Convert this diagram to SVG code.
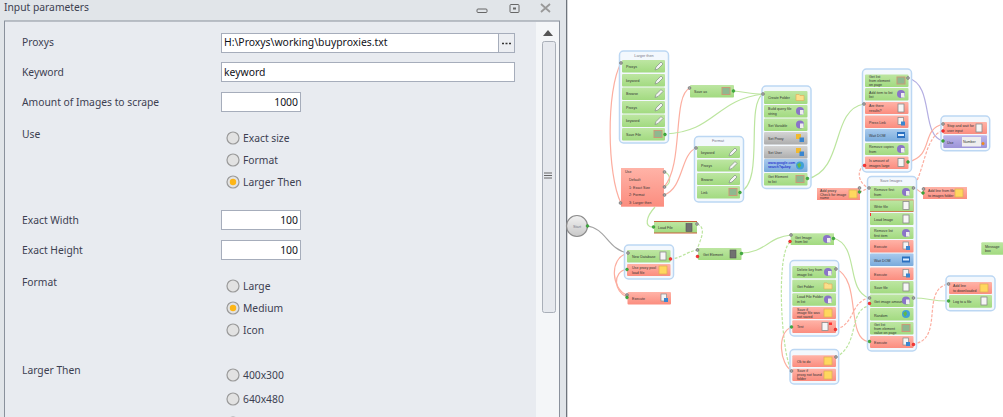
<svg xmlns="http://www.w3.org/2000/svg" width="1003" height="417" viewBox="0 0 1003 417">
<style>
.p{font:10.300px "Noto Sans","Liberation Sans",sans-serif;fill:#3c4050}
.v{font:10.400px "Noto Sans","Liberation Sans",sans-serif;fill:#101018}
.inp{fill:#fff;stroke:#a6adbb;stroke-width:1}
.rad{fill:#e2e2e2;stroke:#9a9a9a;stroke-width:1.200}
.t{font:3.600px "Liberation Sans",sans-serif;fill:#333}
.h{font:3.800px "Liberation Sans",sans-serif;fill:#778;text-anchor:middle}
.box{fill:#f3f8fd;stroke:#bcd7f3;stroke-width:1.500}
.g{fill:url(#gg)}.r{fill:url(#gr)}.b{fill:url(#gb)}.a{fill:url(#ga)}.u{fill:url(#gu)}
.c{fill:none;stroke-width:1.200}
.cg{stroke:#bce59f}.cr{stroke:#fcaea0}.cu{stroke:#b4aee2}.ck{stroke:#a4a4a4}
.d{stroke-dasharray:3 1.500}
.pk{fill:#aaa;stroke:#666;stroke-width:.6}.pg{fill:#3fae3f;stroke:#2a8a2a;stroke-width:.5}.pr{fill:#f33;stroke:#c11;stroke-width:.5}
</style>
<defs>
<linearGradient id="gg" x1="0" y1="0" x2="0" y2="1"><stop offset="0" stop-color="#bde6a2"/><stop offset="1" stop-color="#a2da80"/></linearGradient>
<linearGradient id="gr" x1="0" y1="0" x2="0" y2="1"><stop offset="0" stop-color="#ffb3a7"/><stop offset="1" stop-color="#fb8d7f"/></linearGradient>
<linearGradient id="gb" x1="0" y1="0" x2="0" y2="1"><stop offset="0" stop-color="#a9caed"/><stop offset="1" stop-color="#79abdc"/></linearGradient>
<linearGradient id="ga" x1="0" y1="0" x2="0" y2="1"><stop offset="0" stop-color="#d4d4d4"/><stop offset="1" stop-color="#adadad"/></linearGradient>
<linearGradient id="gu" x1="0" y1="0" x2="0" y2="1"><stop offset="0" stop-color="#bcb6ea"/><stop offset="1" stop-color="#9c94d8"/></linearGradient>
<linearGradient id="gs" x1="0" y1="0" x2="0" y2="1"><stop offset="0" stop-color="#f2f2f2"/><stop offset="1" stop-color="#c8c8c8"/></linearGradient>
<symbol id="pen" viewBox="0 0 10 10"><path d="M1 9 2 6 7 1 9 3 4 8Z" fill="#f4f4f4" stroke="#8a9a8a" stroke-width=".8"/></symbol>
<symbol id="note" viewBox="0 0 10 10"><rect x="1" y="1" width="8" height="8" fill="#ffd75e" stroke="#e2ae55" stroke-width=".8"/></symbol>
<symbol id="fold" viewBox="0 0 10 10"><path d="M1 2H4L5 3H9V8H1Z" fill="#fbdf8a" stroke="#dfb060" stroke-width=".7"/></symbol>
<symbol id="gear" viewBox="0 0 10 10"><circle cx="5" cy="5" r="4" fill="#8a74c8"/><rect x="5" y="4" width="3.500" height="4.500" fill="#eee"/></symbol>
<symbol id="doc" viewBox="0 0 10 10"><rect x="2" y="1" width="6" height="8" fill="#f6f6f6" stroke="#8a8a8a" stroke-width=".8"/></symbol>
<symbol id="hdd" viewBox="0 0 10 10"><rect x="2" y="1" width="6" height="8" fill="#707070" stroke="#555" stroke-width=".6"/></symbol>
<symbol id="img" viewBox="0 0 10 10"><rect x="1" y="1.500" width="8" height="7" fill="#8fb88f" stroke="#c89a78" stroke-width="1"/></symbol>
<symbol id="web" viewBox="0 0 10 10"><circle cx="5" cy="5" r="4" fill="#3fa0d8"/><path d="M2 4 5 2 6 5 4 8Z" fill="#62b848"/></symbol>
<symbol id="win" viewBox="0 0 10 10"><rect x="1" y="2" width="8" height="6" fill="#2a70c0"/><rect x="2" y="4" width="6" height="2" fill="#dcecff"/></symbol>
<symbol id="key" viewBox="0 0 10 10"><rect x="1" y="1" width="5" height="5" fill="#f2b92e"/><rect x="4.500" y="4.500" width="4.500" height="4.500" fill="#3a86d0"/></symbol>
<symbol id="cpy" viewBox="0 0 10 10"><rect x="2" y="1" width="5.500" height="7" fill="#f4f4f4" stroke="#888" stroke-width=".7"/><rect x="5" y="5" width="4" height="4" fill="#3a86d0"/></symbol>
</defs>
<rect width="1003" height="417" fill="#fff"/>
<g id="panel">
<rect width="566" height="417" fill="#e1e5e9"/>
<rect x="566" width="1.300" height="417" fill="#6e747c"/>
<rect x="4.500" y="21" width="555" height="400" fill="#e8ebf0" stroke="#8a919c"/>
<rect x="536" y="22" width="23" height="395" fill="#f4f6f8"/>
<text x="4" y="11" class="p" fill="#333">Input parameters</text>
<rect x="477" y="9" width="10" height="3.500" rx="1" fill="none" stroke="#666"/>
<rect x="510" y="4.500" width="9" height="8" rx="1" fill="none" stroke="#666"/><rect x="513" y="7.500" width="3" height="2" fill="#666"/>
<path d="M541 4 550 12M550 4 541 12" stroke="#999" stroke-width="1.800"/>
<text x="22" y="46" class="p">Proxys</text>
<rect x="221.500" y="33.500" width="293" height="19" class="inp"/><rect x="498.500" y="33.500" width="16" height="19" fill="#eceef2" stroke="#a6adbb"/>
<path d="M502 43.500H504M505.500 43.500H507.500M509 43.500H511" stroke="#333" stroke-width="1.500"/>
<text x="224" y="46" class="v">H:\Proxys\working\buyproxies.txt</text>
<text x="22" y="76" class="p">Keyword</text>
<rect x="221.500" y="62.500" width="293" height="19" class="inp"/><text x="224" y="76" class="v">keyword</text>
<text x="22" y="106" class="p">Amount of Images to scrape</text>
<rect x="221.500" y="92.500" width="79" height="19" class="inp"/><text x="298" y="106" class="v" text-anchor="end">1000</text>
<text x="22" y="138" class="p">Use</text>
<circle cx="233" cy="138" r="6" class="rad"/><text x="243" y="142" class="p">Exact size</text>
<circle cx="233" cy="160" r="6" class="rad"/><text x="243" y="164" class="p">Format</text>
<circle cx="233" cy="182" r="6" class="rad"/><circle cx="233" cy="182" r="3.200" fill="#fdb515"/><text x="243" y="186" class="p">Larger Then</text>
<text x="22" y="224" class="p">Exact Width</text>
<rect x="221.500" y="210.500" width="79" height="19" class="inp"/><text x="298" y="224" class="v" text-anchor="end">100</text>
<text x="22" y="254" class="p">Exact Height</text>
<rect x="221.500" y="240.500" width="79" height="19" class="inp"/><text x="298" y="254" class="v" text-anchor="end">100</text>
<text x="22" y="286" class="p">Format</text>
<circle cx="233" cy="286" r="6" class="rad"/><text x="243" y="290" class="p">Large</text>
<circle cx="233" cy="308" r="6" class="rad"/><circle cx="233" cy="308" r="3.200" fill="#fdb515"/><text x="243" y="312" class="p">Medium</text>
<circle cx="233" cy="330" r="6" class="rad"/><text x="243" y="334" class="p">Icon</text>
<text x="22" y="374" class="p">Larger Then</text>
<circle cx="233" cy="375" r="6" class="rad"/><text x="243" y="379" class="p">400x300</text>
<circle cx="233" cy="399" r="6" class="rad"/><text x="243" y="403" class="p">640x480</text>
<circle cx="233" cy="423" r="6" class="rad"/>
<path d="M543 36 548 30 553 36Z" fill="#555"/>
<rect x="542.500" y="41.500" width="13" height="271" rx="2" fill="#e6e9ee" stroke="#a9afb8"/>
<path d="M544 173H552M544 175.500H552M544 178H552" stroke="#666"/>
</g>
<g id="connectors">
<path class="c cr" d="M621 203C607 175 606 90 621 63"/>
<path class="c cg" d="M664 172C671 174 672 184 664 187"/>
<path class="c cr" d="M664 187C684 165 672 95 690 88"/>
<path class="c cr" d="M664 195C684 188 680 155 696 148"/>
<path class="c cg" d="M733 91C745 92 752 94 763 94"/>
<path class="c cg" d="M665 134C715 132 715 100 763 94"/>
<path class="c cg" d="M740 192C765 182 745 105 763 94"/>
<path class="c cg" d="M655 207C646 217 644 227 653 227"/>
<path class="c ck" d="M587 226C606 228 608 250 628 253"/>
<path class="c cg d" d="M697 224C708 228 699 242 697 250"/>
<path class="c cg d" d="M670 259C682 258 686 252 697 250"/>
<path class="c cr" d="M628 253C608 258 612 290 627 295"/>
<path class="c cr" d="M627 269C612 272 614 292 627 297"/>
<path class="c cg" d="M741 253C765 253 768 237 791 235"/>
<path class="c cg d" d="M790 242C775 255 782 360 792 371"/>
<path class="c cr" d="M792 327C776 332 780 365 792 371"/>
<path class="c cg" d="M833 238C860 245 845 290 869 298"/>
<path class="c cr" d="M836 269C862 280 845 338 869 342"/>
<path class="c cr d" d="M836 329C855 325 850 302 869 298"/>
<path class="c cg d" d="M836 357C860 345 848 310 869 306"/>
<path class="c cg" d="M913 298C930 298 930 301 948 301"/>
<path class="c cr d" d="M913 344C945 340 920 290 948 284"/>
<path class="c cg" d="M807 179C845 170 830 110 864 104"/>
<path class="c cu" d="M908 78C935 85 920 135 943 141"/>
<path class="c cr" d="M908 162C935 155 920 130 943 124"/>
<path class="c cr d" d="M864 165C855 172 860 185 869 188"/>
<path class="c cr d" d="M859 192C864 191 865 189 869 188"/>
<path class="c cr d" d="M913 188C925 170 925 135 943 131"/>
<path class="c cr" d="M913 188C918 188 918 192 923 193"/>
</g>
<g id="start"><circle cx="577" cy="226" r="10.500" fill="url(#gs)" stroke="#8c8c8c" stroke-width="1.200"/><text x="577" y="227.500" class="h">Start</text></g>
<g id="larger-then"><rect x="619.500" y="51" width="49" height="92" rx="4" class="box"/><text x="644" y="56.500" class="h">Larger then</text>
<rect x="622" y="60" width="43" height="12.500" rx="1" class="g"/><text x="626" y="67.500" class="t">Proxys</text><use href="#pen" x="654" y="61" width="10" height="10"/>
<rect x="622" y="74" width="43" height="12.500" rx="1" class="g"/><text x="626" y="81.500" class="t">keyword</text><use href="#pen" x="654" y="75" width="10" height="10"/>
<rect x="622" y="87.500" width="43" height="12.500" rx="1" class="g"/><text x="626" y="95" class="t">Browse</text><use href="#pen" x="654" y="88.500" width="10" height="10"/>
<rect x="622" y="101" width="43" height="12.500" rx="1" class="g"/><text x="626" y="108.500" class="t">Proxys</text><use href="#pen" x="654" y="102" width="10" height="10"/>
<rect x="622" y="114.500" width="43" height="12.500" rx="1" class="g"/><text x="626" y="122" class="t">keyword</text><use href="#pen" x="654" y="115.500" width="10" height="10"/>
<rect x="622" y="128" width="43" height="12.500" rx="1" class="g"/><text x="626" y="135.500" class="t">Save File</text><use href="#img" x="653" y="129" width="10" height="10"/></g>
<g id="switch"><rect x="621" y="168" width="43" height="38.700" class="r"/><text x="625" y="173" class="t">Use</text><text x="629" y="180.500" class="t">Default</text><text x="629" y="188.500" class="t">1: Exact Size</text><text x="629" y="196" class="t">2: Format</text><text x="629" y="204" class="t">3: Larger then</text></g>
<g id="node-top"><rect x="690" y="85" width="44" height="12.500" rx="1" class="g"/><text x="694" y="92.500" class="t">Save as</text><use href="#img" x="721" y="86" width="10" height="10"/></g>
<g id="format"><rect x="694.500" y="136.500" width="49" height="65.500" rx="4" class="box"/><text x="718" y="142" class="h">Format</text>
<rect x="697" y="146" width="43" height="12" rx="1" class="g"/><text x="701" y="153.500" class="t">keyword</text><use href="#pen" x="728" y="147" width="10" height="10"/>
<rect x="697" y="159.500" width="43" height="12" rx="1" class="g"/><text x="701" y="167" class="t">Proxys</text><use href="#pen" x="728" y="160.500" width="10" height="10"/>
<rect x="697" y="173" width="43" height="12" rx="1" class="g"/><text x="701" y="180.500" class="t">Browse</text><use href="#pen" x="728" y="174" width="10" height="10"/>
<rect x="697" y="186" width="43" height="12.500" rx="1" class="g"/><text x="701" y="194" class="t">Link</text><use href="#img" x="728" y="187" width="10" height="10"/></g>
<g id="save-a"><rect x="654" y="221" width="43" height="12.500" fill="#c9603c"/><rect x="654" y="222" width="43" height="10.500" class="g"/><text x="658" y="229" class="t">Load File</text><use href="#hdd" x="684" y="222.500" width="10" height="10"/></g>
<g id="entry"><rect x="624.500" y="245" width="49" height="34" rx="4" class="box"/>
<rect x="627" y="250" width="43.500" height="12.500" rx="1" class="g"/><text x="632" y="257.500" class="t">New Database</text><use href="#doc" x="658" y="251" width="10" height="10"/>
<rect x="627" y="264" width="43.500" height="12" rx="1" class="r"/><text x="632" y="269" class="t">Use proxy pool</text><text x="632" y="273.500" class="t">load file</text><use href="#note" x="658" y="265" width="10" height="10"/></g>
<g id="entry-err"><rect x="627.500" y="292" width="43.500" height="12.500" rx="1" class="r"/><text x="632" y="300" class="t">Execute</text><use href="#cpy" x="659" y="293" width="10" height="10"/></g>
<g id="node-mid"><rect x="698" y="248" width="43.500" height="12" rx="1" class="g"/><text x="703" y="255.500" class="t">Get Element</text><use href="#hdd" x="728" y="249" width="10" height="10"/></g>
<g id="steps"><rect x="762" y="86" width="49" height="102.500" rx="4" class="box"/>
<rect x="764" y="91" width="43.500" height="13" rx="1" class="g"/><text x="768" y="99" class="t">Create Folder</text><use href="#fold" x="795" y="92.500" width="10" height="10"/>
<rect x="764" y="105" width="43.500" height="12.500" rx="1" class="g"/><text x="768" y="110" class="t">Build query file</text><text x="768" y="115" class="t">string</text><use href="#gear" x="795" y="106" width="10" height="10"/>
<rect x="764" y="118.500" width="43.500" height="12.500" rx="1" class="g"/><text x="768" y="126.500" class="t">Set Variable</text><use href="#gear" x="795" y="119.500" width="10" height="10"/>
<rect x="764" y="132" width="43.500" height="12.500" rx="1" class="a"/><text x="768" y="140" class="t">Set Proxy</text><use href="#key" x="795" y="133" width="10" height="10"/>
<rect x="764" y="146" width="43.500" height="12.500" rx="1" class="a"/><text x="768" y="154" class="t">Set User</text><use href="#key" x="795" y="147" width="10" height="10"/>
<rect x="764" y="159" width="43.500" height="13" rx="1" class="b"/><text x="768" y="163.500" class="t" style="fill:#0000c8">www.google.com</text><text x="768" y="168" class="t" style="fill:#0000c8">search?q=key</text><use href="#web" x="795" y="160.500" width="10" height="10"/>
<rect x="764" y="173" width="43.500" height="12.500" rx="1" class="g"/><text x="768" y="178" class="t">Get Element</text><text x="768" y="183" class="t">to list</text><use href="#img" x="795" y="174" width="10" height="10"/></g>
<g id="paging"><rect x="862.500" y="69" width="49" height="103" rx="4" class="box"/>
<rect x="865" y="74.500" width="43.500" height="12.500" rx="1" class="g"/><text x="869" y="78" class="t">Get list</text><text x="869" y="82" class="t">from element</text><text x="869" y="86" class="t">on page</text><use href="#img" x="896" y="75.500" width="10" height="10"/>
<rect x="865" y="88" width="43.500" height="12.500" rx="1" class="g"/><text x="869" y="93.500" class="t">Add item to list</text><text x="869" y="98" class="t">list</text><use href="#gear" x="896" y="89" width="10" height="10"/>
<rect x="865" y="102" width="43.500" height="12" rx="1" class="r"/><text x="869" y="107" class="t">Are there</text><text x="869" y="112" class="t">results?</text><use href="#doc" x="896" y="103" width="10" height="10"/>
<rect x="865" y="115.500" width="43.500" height="12.500" rx="1" class="r"/><text x="869" y="123.500" class="t">Press Link</text><use href="#cpy" x="896" y="116.500" width="10" height="10"/>
<rect x="865" y="129" width="43.500" height="12.500" rx="1" class="b"/><text x="869" y="137" class="t">Wait DOM</text><use href="#win" x="896" y="130" width="10" height="10"/>
<rect x="865" y="143" width="43.500" height="12" rx="1" class="g"/><text x="869" y="148" class="t">Remove copies</text><text x="869" y="153" class="t">from</text><use href="#gear" x="896" y="144" width="10" height="10"/>
<rect x="865" y="156.500" width="43.500" height="12.500" rx="1" class="r"/><text x="869" y="161.500" class="t">Is amount of</text><text x="869" y="166.500" class="t">images large</text><use href="#doc" x="896" y="157.500" width="10" height="10"/></g>
<g id="save-images"><rect x="867.500" y="176.500" width="49" height="174.500" rx="4" class="box"/><text x="891" y="182" class="h">Save Images</text>
<rect x="870" y="186" width="43.500" height="12.500" rx="1" class="g"/><text x="874" y="191" class="t">Remove first</text><text x="874" y="196" class="t">from</text><use href="#gear" x="901" y="187" width="10" height="10"/>
<rect x="870" y="199.500" width="43.500" height="12.500" fill="#d8694a"/><rect x="870" y="200.300" width="43.500" height="10.900" class="g"/><text x="874" y="207.500" class="t">Write file</text><use href="#doc" x="901" y="200.500" width="10" height="10"/>
<rect x="870" y="213" width="43.500" height="12" rx="1" class="g"/><rect x="870" y="213" width="1" height="3" fill="#e33"/><text x="874" y="220.500" class="t">Load Image</text><use href="#doc" x="901" y="214" width="10" height="10"/>
<rect x="870" y="227" width="43.500" height="12" rx="1" class="g"/><text x="874" y="232" class="t">Remove list</text><text x="874" y="237" class="t">first item</text><use href="#gear" x="901" y="228" width="10" height="10"/>
<rect x="870" y="240" width="43.500" height="12.500" rx="1" class="r"/><text x="874" y="248" class="t">Execute</text><use href="#cpy" x="901" y="241" width="10" height="10"/>
<rect x="870" y="253.500" width="43.500" height="12.500" rx="1" class="b"/><text x="874" y="261.500" class="t">Wait DOM</text><use href="#win" x="901" y="254.500" width="10" height="10"/>
<rect x="870" y="267.500" width="43.500" height="12.500" rx="1" class="r"/><text x="874" y="275.500" class="t">Execute</text><use href="#cpy" x="901" y="268.500" width="10" height="10"/>
<rect x="870" y="281" width="43.500" height="12.500" rx="1" class="g"/><text x="874" y="289" class="t">Save file</text><use href="#doc" x="901" y="282" width="10" height="10"/>
<rect x="870" y="294.500" width="43.500" height="12.500" rx="1" class="g"/><text x="874" y="302.500" class="t">Get image amount</text><use href="#gear" x="901" y="295.500" width="10" height="10"/>
<rect x="870" y="308" width="43.500" height="12.500" rx="1" class="g"/><text x="874" y="316.500" class="t">Random</text><use href="#web" x="901" y="309" width="10" height="10"/>
<rect x="870" y="322" width="43.500" height="12.500" rx="1" class="g"/><text x="874" y="326" class="t">Get list</text><text x="874" y="330" class="t">from element</text><text x="874" y="334" class="t">value on page</text><use href="#img" x="901" y="323" width="10" height="10"/>
<rect x="870" y="336" width="43.500" height="12" rx="1" class="r"/><text x="874" y="343.500" class="t">Execute</text><use href="#cpy" x="901" y="337" width="10" height="10"/></g>
<g id="wait"><rect x="941" y="116" width="48.700" height="34.700" rx="4" class="box"/>
<rect x="943.300" y="122" width="43.700" height="12" rx="1" class="r"/><text x="947" y="127" class="t">Stop and wait for</text><text x="947" y="132" class="t">user input</text><use href="#doc" x="974" y="123" width="10" height="10"/>
<rect x="943.300" y="135.300" width="43.700" height="12.700" rx="1" class="u"/><text x="947" y="143.500" class="t">Use</text><rect x="962" y="137" width="19" height="9.500" fill="#eee"/><text x="963" y="143.300" class="t">Number</text><circle cx="983" cy="143.500" r="1.500" fill="#f08a1e"/></g>
<g id="note-left"><rect x="817" y="188" width="43" height="12" class="r"/><text x="820" y="192" class="t">Add proxy</text><text x="820" y="195.700" class="t">Check for image</text><text x="820" y="199.300" class="t">name</text><use href="#note" x="848" y="189" width="10" height="10"/></g>
<g id="note-right"><rect x="923" y="187" width="44" height="12" class="r"/><text x="928" y="192" class="t">Add line from file</text><text x="928" y="197" class="t">to images folder</text><use href="#note" x="954" y="188" width="10" height="10"/></g>
<g id="node-low"><rect x="790.700" y="233.300" width="43.300" height="11.700" class="g"/><text x="795" y="238.500" class="t">Get Image</text><text x="795" y="243" class="t">from list</text><use href="#gear" x="822" y="234" width="10" height="10"/></g>
<g id="load-group"><rect x="790" y="260.500" width="48.700" height="75.500" rx="4" class="box"/>
<rect x="792.300" y="266" width="43.700" height="12.300" rx="1" class="g"/><text x="797" y="271" class="t">Delete key from</text><text x="797" y="276" class="t">image list</text><use href="#gear" x="823" y="267" width="10" height="10"/>
<rect x="792.300" y="279.700" width="43.700" height="12.300" rx="1" class="g"/><text x="797" y="287.500" class="t">Get Folder</text><use href="#fold" x="823" y="281" width="10" height="10"/>
<rect x="792.300" y="293.300" width="43.700" height="12.400" rx="1" class="g"/><text x="797" y="298" class="t">Load File Folder</text><text x="797" y="303" class="t">in list</text><use href="#gear" x="823" y="294.500" width="10" height="10"/>
<rect x="792.300" y="307" width="43.700" height="12" rx="1" class="r"/><text x="797" y="310.500" class="t">Save if</text><text x="797" y="314.300" class="t">image file was</text><text x="797" y="318.200" class="t">not saved</text><use href="#note" x="823" y="308" width="10" height="10"/>
<rect x="792.300" y="320.300" width="43.700" height="12.700" rx="1" class="r"/><text x="797" y="328" class="t">Test</text><use href="#doc" x="820" y="321.500" width="10" height="10"/><rect x="829" y="322.500" width="3" height="2.500" fill="#f33"/></g>
<g id="note-group"><rect x="790" y="349.500" width="48.700" height="34.500" rx="4" class="box"/>
<rect x="792.300" y="355.300" width="43.700" height="11.700" rx="1" class="r"/><text x="797" y="363" class="t">Ok to do</text><use href="#note" x="823" y="356" width="10" height="10"/>
<rect x="792.300" y="368.700" width="43.700" height="12.300" rx="1" class="r"/><text x="797" y="372.300" class="t">Save if</text><text x="797" y="376.200" class="t">proxy not found</text><text x="797" y="380.200" class="t">folder</text><use href="#note" x="823" y="370" width="10" height="10"/></g>
<g id="finish"><rect x="946" y="276" width="49" height="34.700" rx="4" class="box"/>
<rect x="949" y="282" width="43" height="12" rx="1" class="r"/><text x="953" y="287" class="t">Add line</text><text x="953" y="292" class="t">to downloaded</text><use href="#note" x="979" y="283" width="10" height="10"/>
<rect x="949" y="295" width="43" height="12.700" rx="1" class="g"/><text x="953" y="303" class="t">Log to a file</text><use href="#doc" x="979" y="296" width="10" height="10"/></g>
<g id="node-far"><rect x="981.300" y="242.300" width="22" height="12.400" rx="1" class="g"/><text x="985" y="247.500" class="t">Message</text><text x="985" y="252" class="t">box</text></g>
<g id="ports">
<circle cx="621" cy="63" r="1.400" class="pk"/><circle cx="620.500" cy="203" r="1.400" class="pk"/><circle cx="664.500" cy="172" r="1.400" class="pk"/><circle cx="664.500" cy="187" r="1.400" class="pk"/><circle cx="664.500" cy="195" r="1.400" class="pk"/>
<circle cx="689.500" cy="88" r="1.400" class="pk"/><circle cx="696" cy="148" r="1.400" class="pk"/><circle cx="763" cy="94" r="1.400" class="pk"/><circle cx="864" cy="104" r="1.400" class="pk"/><circle cx="908" cy="78" r="1.400" class="pk"/><circle cx="943" cy="124" r="1.400" class="pk"/>
<circle cx="697" cy="224" r="1.400" class="pk"/><circle cx="697.500" cy="250" r="1.400" class="pk"/><circle cx="628" cy="253" r="1.400" class="pk"/><circle cx="627" cy="295" r="1.400" class="pk"/>
<circle cx="791" cy="235" r="1.400" class="pk"/><circle cx="836" cy="269" r="1.400" class="pk"/><circle cx="869.500" cy="298" r="1.400" class="pk"/><circle cx="836" cy="357" r="1.400" class="pk"/><circle cx="791.500" cy="371" r="1.400" class="pk"/><circle cx="913.500" cy="298" r="1.400" class="pk"/><circle cx="948.500" cy="284" r="1.400" class="pk"/><circle cx="869" cy="188" r="1.400" class="pk"/><circle cx="913.500" cy="188" r="1.400" class="pk"/><circle cx="923.500" cy="189" r="1.400" class="pk"/><circle cx="859.500" cy="188" r="1.400" class="pk"/>
<circle cx="665" cy="134.500" r="1.400" class="pg"/><circle cx="733.500" cy="91" r="1.400" class="pg"/><circle cx="740" cy="192.500" r="1.400" class="pg"/><circle cx="587.500" cy="226" r="1.400" class="pg"/><circle cx="653.500" cy="227" r="1.400" class="pg"/><circle cx="741.500" cy="253.500" r="1.400" class="pg"/><circle cx="627" cy="297.500" r="1.400" class="pg"/><circle cx="627" cy="269.500" r="1.400" class="pg"/><circle cx="833.500" cy="238.500" r="1.400" class="pg"/><circle cx="791.500" cy="327" r="1.400" class="pg"/><circle cx="869.500" cy="341.500" r="1.400" class="pg"/><circle cx="948.500" cy="301" r="1.400" class="pg"/><circle cx="807.500" cy="178.500" r="1.400" class="pg"/><circle cx="908" cy="162" r="1.400" class="pg"/><circle cx="943" cy="141" r="1.400" class="pg"/><circle cx="859.500" cy="192" r="1.400" class="pg"/><circle cx="923" cy="193" r="1.400" class="pg"/>
<circle cx="670.500" cy="259" r="1.400" class="pr"/><circle cx="697.500" cy="256.500" r="1.400" class="pr"/><circle cx="790" cy="241.500" r="1.400" class="pr"/><circle cx="835.500" cy="329.500" r="1.400" class="pr"/><circle cx="869.500" cy="303.500" r="1.400" class="pr"/><circle cx="913.500" cy="344.500" r="1.400" class="pr"/><circle cx="864.500" cy="165.500" r="1.400" class="pr"/><circle cx="943" cy="131" r="1.400" class="pr"/>
</g>
</svg>
